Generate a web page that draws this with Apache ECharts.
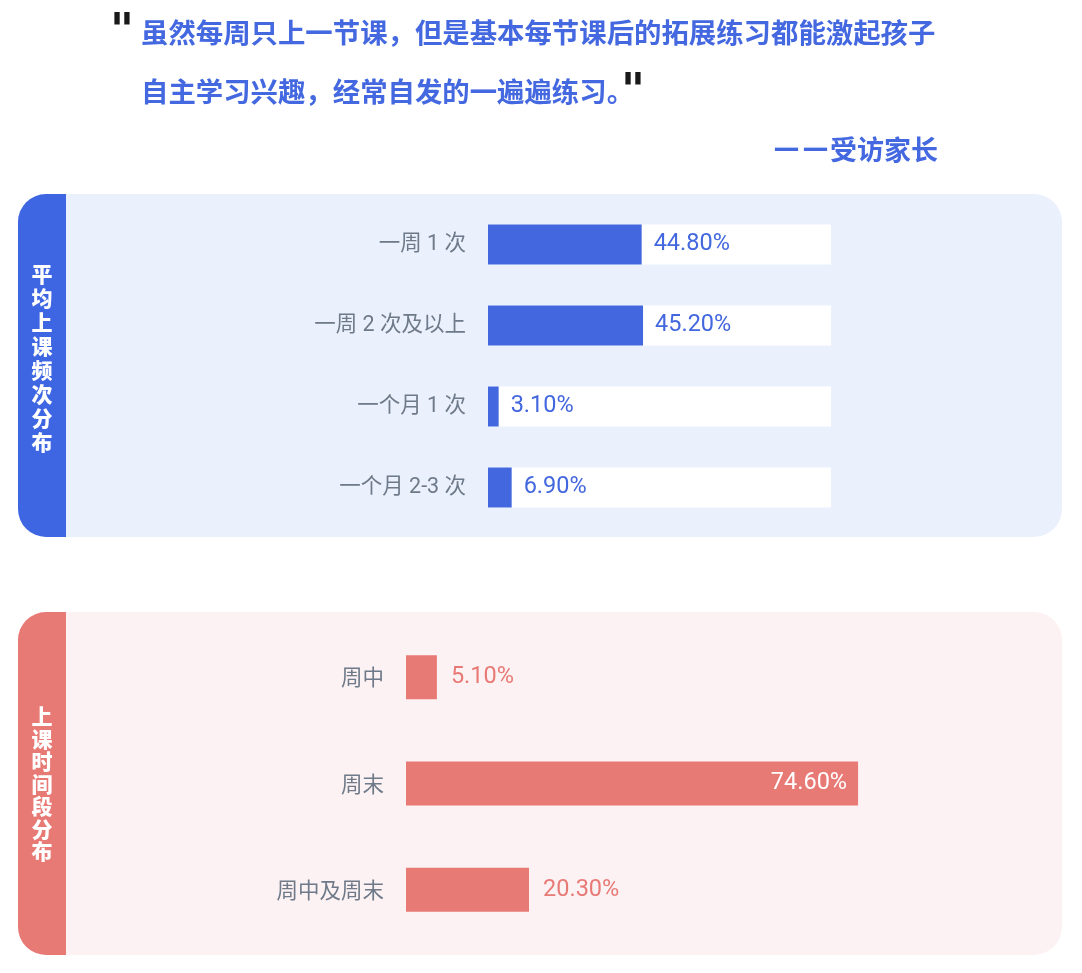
<!DOCTYPE html>
<html>
<head>
<meta charset="utf-8">
<script src="https://cdn.jsdelivr.net/npm/echarts@6/dist/echarts.min.js"></script>
<style>
html,body{margin:0;padding:0;background:#fff;}
#chart{width:1082px;height:973px;}
</style>
</head>
<body>
<div id="chart"></div>
<script>
// ---- data ----
const quoteLine1 = '虽然每周只上一节课，但是基本每节课后的拓展练习都能激起孩子';
const quoteLine2 = '自主学习兴趣，经常自发的一遍遍练习。';
const quoteDash = '—';
const quoteSource = '受访家长';
const freqTitle = '平均上课频次分布';
const freqCategories = ['一周 1 次', '一周 2 次及以上', '一个月 1 次', '一个月 2-3 次'];
const freqValues = [44.8, 45.2, 3.1, 6.9];
const timeTitle = '上课时间段分布';
const timeCategories = ['周中', '周末', '周中及周末'];
const timeValues = [5.1, 74.6, 20.3];

// ---- styles ----
const BLUE = '#4267DE';
const QUOTE = '#4468E0';
const RED = '#E87A76';
const GRAY = '#6E7A89';
const CJK = "'Noto Sans CJK SC', sans-serif";
const NUM = "Roboto, 'Noto Sans CJK SC', sans-serif";

const chart = echarts.init(document.getElementById('chart'));

function vertical(s) { return s.split('').join('\n'); }
function pct(v) { return v.toFixed(2) + '%'; }

const option = {
  animation: false,
  graphic: [
    // quote marks
    { type: 'text', style: { text: '"', x: 110, y: 11, fill: '#1a1a1a', fontSize: 46, fontWeight: 'bold', fontFamily: "'DejaVu Sans'" } },
    { type: 'text', style: { text: '"', x: 621, y: 71, fill: '#1a1a1a', fontSize: 46, fontWeight: 'bold', fontFamily: "'DejaVu Sans'" } },
    // quote text
    { type: 'text', style: { text: quoteLine1, x: 141, y: 33, textVerticalAlign: 'middle', fill: QUOTE, fontSize: 27.4, fontWeight: 'bold', fontFamily: CJK } },
    { type: 'text', style: { text: quoteLine2, x: 141, y: 92, textVerticalAlign: 'middle', fill: QUOTE, fontSize: 27.4, fontWeight: 'bold', fontFamily: CJK } },
    {
      type: 'text',
      style: {
        text: '{d|' + quoteDash + '}{d|' + quoteDash + '}{t|' + quoteSource + '}',
        x: 938, y: 150, textAlign: 'right', textVerticalAlign: 'middle',
        fill: QUOTE, fontSize: 27, fontWeight: 'bold', fontFamily: CJK,
        rich: {
          d: { fill: QUOTE, fontSize: 26, fontWeight: 'bold', fontFamily: "'DejaVu Sans'", padding: [0, 1.5, 0, 1.5] },
          t: { fill: QUOTE, fontSize: 27, fontWeight: 'bold', fontFamily: CJK }
        }
      }
    },
    // panel 1
    { type: 'rect', z: -10, shape: { x: 18, y: 194, width: 1044, height: 343, r: 28 }, style: { fill: '#EAF0FC' } },
    { type: 'rect', z: -9, shape: { x: 18, y: 194, width: 48, height: 343, r: [28, 0, 0, 28] }, style: { fill: '#3F66E2' } },
    { type: 'text', z: -8, style: { text: vertical(freqTitle), x: 42, y: 358, textAlign: 'center', textVerticalAlign: 'middle', fill: '#fff', fontSize: 21, lineHeight: 24, fontWeight: 900, fontFamily: CJK } },
    // panel 2
    { type: 'rect', z: -10, shape: { x: 18, y: 612, width: 1044, height: 343, r: 28 }, style: { fill: '#FDF2F3' } },
    { type: 'rect', z: -9, shape: { x: 18, y: 612, width: 48, height: 343, r: [28, 0, 0, 28] }, style: { fill: RED } },
    { type: 'text', z: -8, style: { text: vertical(timeTitle), x: 42, y: 784, textAlign: 'center', textVerticalAlign: 'middle', fill: '#fff', fontSize: 21, lineHeight: 22.5, fontWeight: 900, fontFamily: CJK } }
  ],
  grid: [
    { left: 488, width: 343, top: 204, height: 324, containLabel: false },
    { left: 406, width: 606, top: 624, height: 319, containLabel: false }
  ],
  xAxis: [
    { gridIndex: 0, type: 'value', min: 0, max: 100, show: false },
    { gridIndex: 1, type: 'value', min: 0, max: 100, show: false }
  ],
  yAxis: [
    {
      gridIndex: 0, type: 'category', data: freqCategories, inverse: true,
      axisLine: { show: false }, axisTick: { show: false }, splitLine: { show: false },
      axisLabel: { margin: 22, color: GRAY, fontSize: 21.5, fontFamily: NUM }
    },
    {
      gridIndex: 1, type: 'category', data: timeCategories, inverse: true,
      axisLine: { show: false }, axisTick: { show: false }, splitLine: { show: false },
      axisLabel: { margin: 22, color: GRAY, fontSize: 21.5, fontFamily: CJK }
    }
  ],
  series: [
    {
      type: 'bar', xAxisIndex: 0, yAxisIndex: 0, data: freqValues, barWidth: 40,
      itemStyle: { color: BLUE },
      showBackground: true, backgroundStyle: { color: '#ffffff' },
      label: { show: true, position: 'right', distance: 12, color: BLUE, fontSize: 23.5, fontFamily: NUM, formatter: p => pct(p.value) }
    },
    {
      type: 'bar', xAxisIndex: 1, yAxisIndex: 1, barWidth: 44,
      data: timeValues.map(v => v > 50
        ? { value: v, label: { position: 'insideRight', distance: 11, color: '#fff' } }
        : v),
      itemStyle: { color: RED },
      label: { show: true, position: 'right', distance: 14, color: RED, fontSize: 23.5, fontFamily: NUM, formatter: p => pct(p.value) }
    }
  ]
};
chart.setOption(option);
</script>
</body>
</html>
